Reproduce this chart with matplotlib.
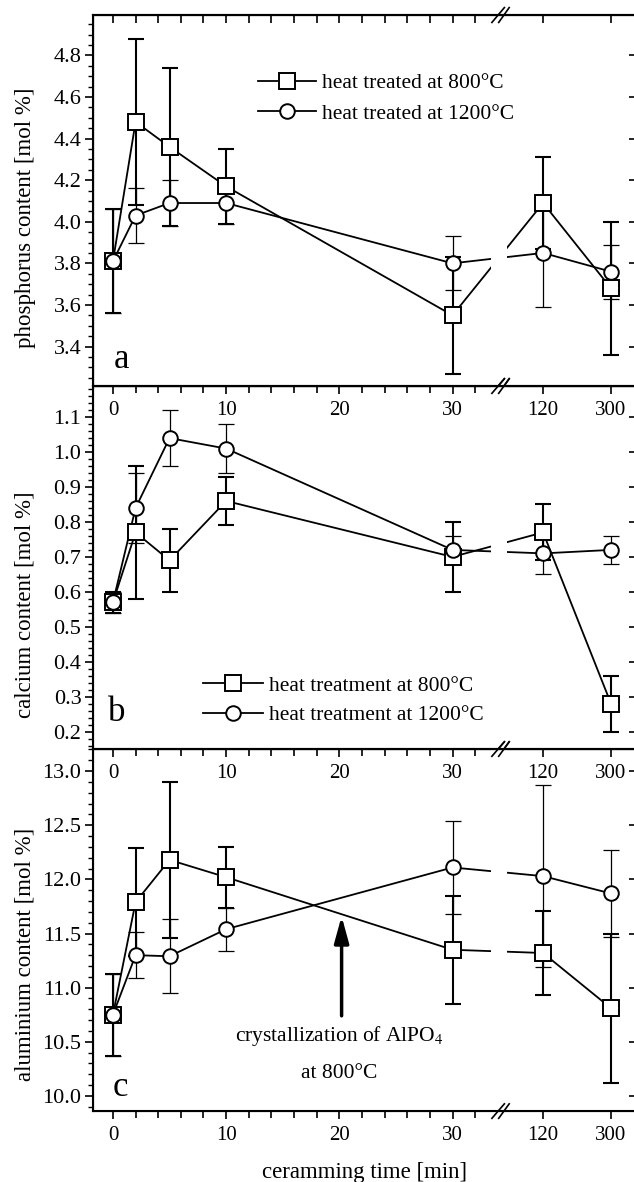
import numpy as np
import matplotlib
matplotlib.use("Agg")
import matplotlib.pyplot as plt
from matplotlib.lines import Line2D
from matplotlib.ticker import FixedLocator, MultipleLocator

plt.rcParams["font.family"] = ["Liberation Serif", "DejaVu Serif"]
plt.rcParams["mathtext.fontset"] = "stix"

# ceramming time [min]
time_min = [0, 2, 5, 10, 30, 120, 300]

# phosphorus content [mol %]
p_800 = [3.81, 4.48, 4.36, 4.17, 3.55, 4.09, 3.68]
p_800_err = [0.25, 0.40, 0.38, 0.18, 0.28, 0.22, 0.32]
p_1200 = [3.81, 4.03, 4.09, 4.09, 3.80, 3.85, 3.76]
p_1200_err = [0.25, 0.13, 0.11, 0.10, 0.13, 0.26, 0.13]

# calcium content [mol %]
ca_800 = [0.57, 0.77, 0.69, 0.86, 0.70, 0.77, 0.28]
ca_800_err = [0.03, 0.19, 0.09, 0.07, 0.10, 0.08, 0.08]
ca_1200 = [0.57, 0.84, 1.04, 1.01, 0.72, 0.71, 0.72]
ca_1200_err = [0.03, 0.10, 0.08, 0.07, 0.04, 0.06, 0.04]

# aluminium content [mol %]
al_800 = [10.75, 11.79, 12.18, 12.02, 11.35, 11.32, 10.81]
al_800_err = [0.38, 0.50, 0.72, 0.28, 0.50, 0.39, 0.69]
al_1200 = [10.75, 11.30, 11.29, 11.54, 12.11, 12.03, 11.87]
al_1200_err = [0.38, 0.21, 0.34, 0.20, 0.43, 0.84, 0.40]

major_ticks = [0, 10, 20, 30, 120, 300]
minor_ticks = [2, 4, 6, 8, 12, 14, 16, 18, 22, 24, 26, 28, 32]

# broken time axis: linear up to the break, then 120 and 300 squeezed in
t_knots = [-100, 35, 120, 300, 1000]
m_knots = [-100, 35, 38.0, 44.0, 67.3]


def to_axis(t):
    return np.interp(t, t_knots, m_knots)


def from_axis(m):
    return np.interp(m, m_knots, t_knots)


BREAK = 34.33
FS = 15.5


def setup_time_axis(ax):
    ax.set_xscale("function", functions=(to_axis, from_axis))
    ax.set_xlim(from_axis(-1.8), from_axis(46.2))
    ax.xaxis.set_major_locator(FixedLocator(major_ticks))
    ax.xaxis.set_minor_locator(FixedLocator(minor_ticks))
    ax.set_xticklabels([str(t) for t in major_ticks])
    ax.tick_params(axis="x", which="major", direction="out", length=6, width=1.2,
                   labelsize=15, pad=5)
    ax.tick_params(axis="x", which="minor", direction="out", length=5, width=1.2)
    ax.tick_params(axis="y", which="major", direction="out", length=6, width=1.2,
                   labelsize=16, pad=2)
    ax.tick_params(axis="y", which="minor", direction="out", length=3.5, width=1.0)
    for s in ax.spines.values():
        s.set_linewidth(1.5)
    ax.patch.set_visible(False)

    # white gap in the lines at the break
    ax.axvspan(33.4, 34.8, color="white", lw=0, zorder=2.3)
    # break marks on top and bottom spine
    for y in (0, 1):
        for dx in (-0.3, 0.3):
            ax.plot([BREAK + dx - 0.55, BREAK + dx + 0.55], [y - 0.02, y + 0.02],
                    color="black", lw=1.2, transform=ax.get_xaxis_transform(),
                    clip_on=False, zorder=5)

    # inward ticks on the right spine
    tw = ax.twinx()
    tw.set_ylim(ax.get_ylim())
    tw.yaxis.set_major_locator(ax.yaxis.get_major_locator())
    tw.tick_params(axis="y", direction="in", length=5, width=1.2, labelright=False)
    tw.spines["right"].set_linewidth(1.5)
    return tw


def draw_series(ax, y, err, marker, ms, elw):
    ax.errorbar(time_min, y, yerr=err, fmt="none", ecolor="black",
                elinewidth=elw, capsize=5.5, capthick=elw, zorder=2)
    ax.plot(time_min, y, color="black", lw=1.3, zorder=2.1)
    ax.plot(time_min, y, ls="none", marker=marker, ms=ms, mfc="white",
            mec="black", mew=1.4, zorder=3)


def handle(marker, ms):
    return Line2D([], [], color="black", lw=1.3, marker=marker, ms=ms,
                  mfc="white", mec="black", mew=1.4)


fig = plt.figure(figsize=(6.34, 11.82), dpi=100)
left, width = 0.146, 0.857
ax_a = fig.add_axes([left, 0.6734, width, 0.3139])
ax_b = fig.add_axes([left, 0.3663, width, 0.3071])
ax_c = fig.add_axes([left, 0.0600, width, 0.3063])

# panel a: phosphorus
ax_a.set_ylim(3.21, 4.994)
ax_a.yaxis.set_major_locator(MultipleLocator(0.2))
ax_a.yaxis.set_minor_locator(MultipleLocator(0.05))
ax_a.yaxis.set_major_formatter(lambda v, p: f"{v:.1f}")
draw_series(ax_a, p_800, p_800_err, "s", 11.5, 1.5)
draw_series(ax_a, p_1200, p_1200_err, "o", 10.5, 0.9)
setup_time_axis(ax_a)
# inward ticks on the top spine of the first panel
top = ax_a.twiny()
top.set_xscale("function", functions=(to_axis, from_axis))
top.set_xlim(ax_a.get_xlim())
top.xaxis.set_major_locator(FixedLocator(major_ticks))
top.xaxis.set_minor_locator(FixedLocator(minor_ticks))
top.tick_params(axis="x", which="both", direction="in", length=6, width=1.2,
                labeltop=False)
top.spines["top"].set_linewidth(1.5)
ax_a.set_ylabel("phosphorus content [mol %]", fontsize=16.5)
ax_a.yaxis.set_label_coords(-0.105, 0.453)
ax_a.text(0.8, 3.34, "a", fontsize=25, ha="center", va="center")
ax_a.legend([handle("s", 11.5), handle("o", 10.5)],
            ["heat treated at 800°C", "heat treated at 1200°C"],
            loc="center left", bbox_to_anchor=(0.305, 0.775), frameon=False,
            fontsize=FS, handlelength=2.7, handletextpad=0.25, labelspacing=0.5,
            borderpad=0, borderaxespad=0)

# panel b: calcium
ax_b.set_ylim(0.15, 1.189)
ax_b.yaxis.set_major_locator(MultipleLocator(0.1))
ax_b.yaxis.set_minor_locator(MultipleLocator(0.02))
ax_b.yaxis.set_major_formatter(lambda v, p: f"{v:.1f}")
draw_series(ax_b, ca_800, ca_800_err, "s", 11.5, 1.5)
draw_series(ax_b, ca_1200, ca_1200_err, "o", 10.5, 0.9)
setup_time_axis(ax_b)
ax_b.set_ylabel("calcium content [mol %]", fontsize=16.5)
ax_b.yaxis.set_label_coords(-0.105, 0.397)
ax_b.text(0.35, 0.255, "b", fontsize=25, ha="center", va="center")
ax_b.legend([handle("s", 11.5), handle("o", 10.5)],
            ["heat treatment at 800°C", "heat treatment at 1200°C"],
            loc="center left", bbox_to_anchor=(0.203, 0.134), frameon=False,
            fontsize=FS, handlelength=2.8, handletextpad=0.25, labelspacing=0.45,
            borderpad=0, borderaxespad=0)

# panel c: aluminium
ax_c.set_ylim(9.86, 13.204)
ax_c.yaxis.set_major_locator(MultipleLocator(0.5))
ax_c.yaxis.set_minor_locator(MultipleLocator(0.1))
ax_c.yaxis.set_major_formatter(lambda v, p: f"{v:.1f}")
draw_series(ax_c, al_800, al_800_err, "s", 11.5, 1.5)
draw_series(ax_c, al_1200, al_1200_err, "o", 10.5, 0.9)
setup_time_axis(ax_c)
ax_c.set_ylabel("aluminium content [mol %]", fontsize=16.5)
ax_c.yaxis.set_label_coords(-0.105, 0.433)
ax_c.set_xlabel("ceramming time [min]", fontsize=16.5, labelpad=12)
ax_c.text(0.65, 10.08, "c", fontsize=25, ha="center", va="center")
ax_c.annotate("", xy=(20.2, 11.66), xytext=(20.2, 10.74),
              arrowprops=dict(arrowstyle="-|>,head_length=0.8,head_width=0.22",
                              lw=2.5, color="black", shrinkA=0, shrinkB=0,
                              mutation_scale=20))
ax_c.text(20.0, 10.55, "crystallization of AlPO$_4$", fontsize=FS,
          ha="center", va="center")
ax_c.text(20.0, 10.21, "at 800°C", fontsize=FS, ha="center", va="center")

fig.savefig("out.png", dpi=100, facecolor="white")
